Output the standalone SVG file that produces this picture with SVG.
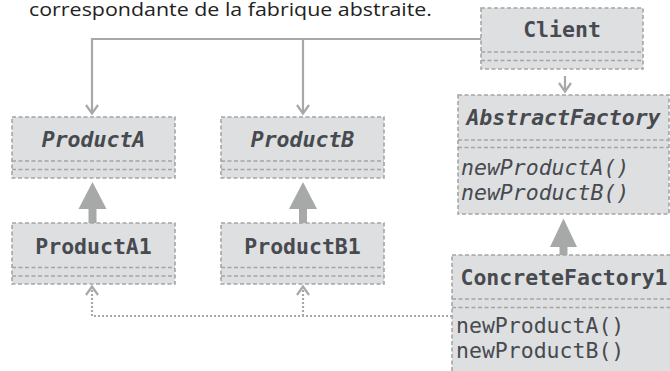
<svg xmlns="http://www.w3.org/2000/svg" width="670" height="371" viewBox="0 0 670 371">
<defs>
<style>
.box{fill:#dedfe1;stroke:#a4a5a6;stroke-width:1.6;stroke-dasharray:4 2.5}
.div{stroke:#a4a5a6;stroke-width:1.6;stroke-dasharray:4 2.5;fill:none}
.nm{font-family:"DejaVu Sans Mono",monospace;font-size:21.5px;font-weight:bold;fill:#474a4f;text-anchor:middle}
.it{font-style:italic}
.op{font-family:"DejaVu Sans Mono",monospace;font-size:21.5px;fill:#474a4f}
.ln{stroke:#a7a9a8;stroke-width:2.2;fill:none}
.dot{stroke:#a7a9a8;stroke-width:2.2;fill:none;stroke-dasharray:2 2}
.tri{fill:#a7a9a8}
</style>
</defs>
<rect width="670" height="371" fill="#ffffff"/>
<text x="29" y="16" font-family="'Open Sans',sans-serif" font-size="19" fill="#222222" textLength="403" lengthAdjust="spacingAndGlyphs">correspondante de la fabrique abstraite.</text>

<g id="connectors">
  <polyline class="ln" points="481,39 92,39 92,113"/>
  <polyline class="ln" points="86,105 92,113.5 98,105"/>
  <line class="ln" x1="303" y1="39" x2="303" y2="113"/>
  <polyline class="ln" points="297,105 303,113.5 309,105"/>
  <line class="ln" x1="565" y1="76" x2="565" y2="91"/>
  <polyline class="ln" points="559,83 565,91.5 571,83"/>
  <polygon class="tri" points="92.5,182 78.5,209 106.5,209"/>
  <rect class="tri" x="88.5" y="208" width="8" height="15"/>
  <polygon class="tri" points="303,182 289,209 317,209"/>
  <rect class="tri" x="299" y="208" width="8" height="15"/>
  <polygon class="tri" points="563.5,218.5 550,247 577,247"/>
  <rect class="tri" x="559.5" y="246" width="8" height="9"/>
  <polyline class="dot" points="452,316 92,316 92,288"/>
  <line class="dot" x1="303" y1="316" x2="303" y2="288"/>
  <polyline class="ln" points="86,295 92,286.5 98,295"/>
  <polyline class="ln" points="297,295 303,286.5 309,295"/>
</g>

<g id="client">
  <rect class="box" x="481" y="8" width="162" height="61"/>
  <line class="div" x1="481" y1="52" x2="643" y2="52"/>
  <line class="div" x1="481" y1="60.5" x2="643" y2="60.5"/>
  <text class="nm" x="562" y="37">Client</text>
</g>

<g id="productA">
  <rect class="box" x="12" y="117" width="163" height="61"/>
  <line class="div" x1="12" y1="161" x2="175" y2="161"/>
  <line class="div" x1="12" y1="169.5" x2="175" y2="169.5"/>
  <text class="nm it" x="93.5" y="147">ProductA</text>
</g>

<g id="productB">
  <rect class="box" x="221" y="117" width="163" height="61"/>
  <line class="div" x1="221" y1="161" x2="384" y2="161"/>
  <line class="div" x1="221" y1="169.5" x2="384" y2="169.5"/>
  <text class="nm it" x="302.5" y="147">ProductB</text>
</g>

<g id="productA1">
  <rect class="box" x="12" y="223" width="163" height="61"/>
  <line class="div" x1="12" y1="267.5" x2="175" y2="267.5"/>
  <line class="div" x1="12" y1="276" x2="175" y2="276"/>
  <text class="nm" x="93.5" y="254">ProductA1</text>
</g>

<g id="productB1">
  <rect class="box" x="221" y="223" width="163" height="61"/>
  <line class="div" x1="221" y1="267.5" x2="384" y2="267.5"/>
  <line class="div" x1="221" y1="276" x2="384" y2="276"/>
  <text class="nm" x="302.5" y="254">ProductB1</text>
</g>

<g id="abstractFactory">
  <rect class="box" x="458" y="95" width="211" height="119"/>
  <line class="div" x1="458" y1="140" x2="669" y2="140"/>
  <line class="div" x1="458" y1="147.5" x2="669" y2="147.5"/>
  <text class="nm it" x="563.5" y="125">AbstractFactory</text>
  <text class="op it" x="461" y="175">newProductA()</text>
  <text class="op it" x="461" y="200">newProductB()</text>
</g>

<g id="concreteFactory1">
  <rect class="box" x="452" y="255" width="224" height="120"/>
  <line class="div" x1="452" y1="299" x2="676" y2="299"/>
  <line class="div" x1="452" y1="307.5" x2="676" y2="307.5"/>
  <text class="nm" x="564" y="285">ConcreteFactory1</text>
  <text class="op" x="456" y="333">newProductA()</text>
  <text class="op" x="456" y="358">newProductB()</text>
</g>
</svg>
